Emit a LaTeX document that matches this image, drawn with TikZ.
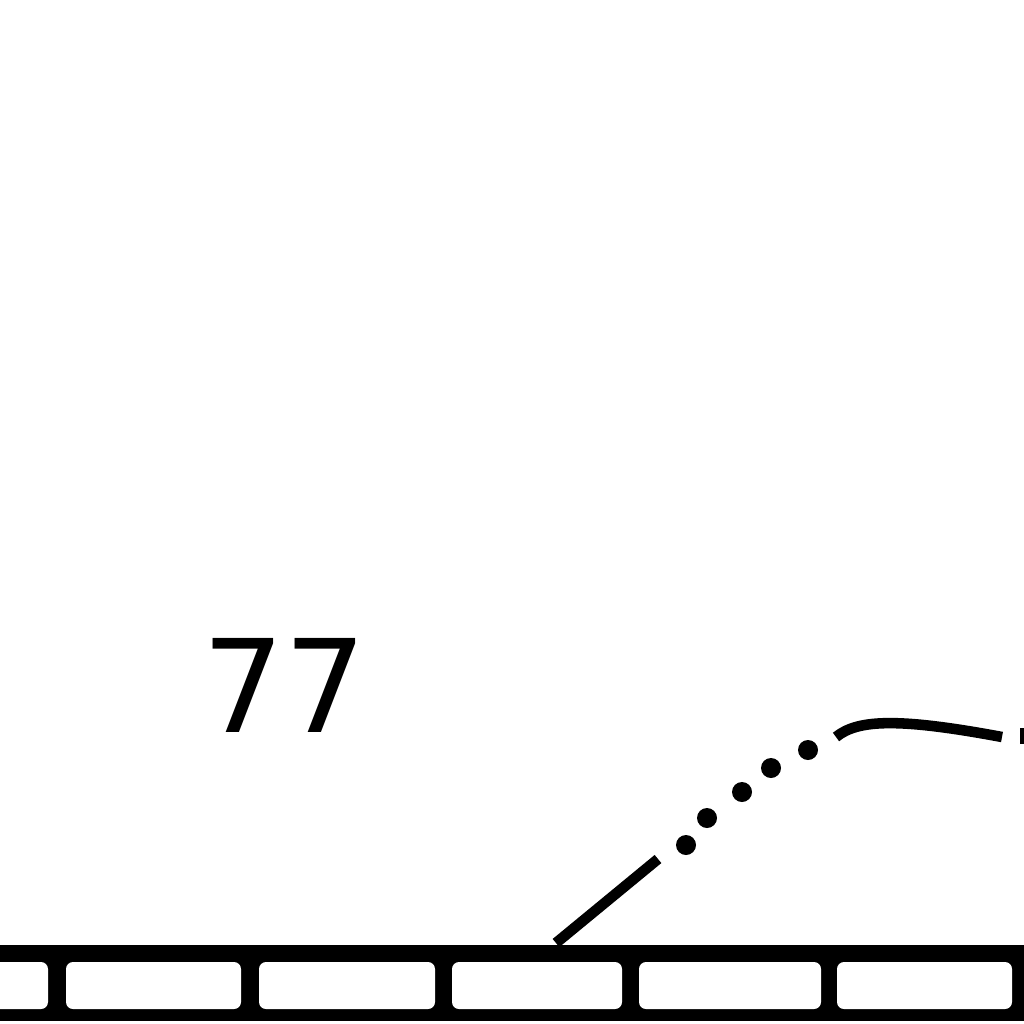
\documentclass[tikz,border=0pt]{standalone}
\usepackage{fontspec}
\newfontfamily\dejavu{DejaVu Sans}
\begin{document}
\begin{tikzpicture}[x=0.01cm,y=-0.01cm,
  curveline/.style={line width=3pt, line cap=butt},
  dotmark/.style={circle, fill=black, inner sep=0pt, minimum size=0.2cm},
  cellbox/.style={fill=white, rounded corners=0.07cm}]
\useasboundingbox (0,0) rectangle (1024,1024);
\clip (0,0) rectangle (1024,1024);
% label
\node[font=\fontsize{36.7}{40}\selectfont\dejavu, anchor=base, inner sep=0pt] (label) at (285,732) {77};
% bar
\fill[black] (-10,945) rectangle (1034,1021);
\foreach \a/\b in {-30/48, 66/241, 259/435, 452/622, 639/821, 837/1012} {
  \fill[cellbox] (\a,962) rectangle (\b,1009);
}
% lower solid part of the curve
\coordinate (c0) at (556,943);
\coordinate (c1) at (658,859);
\draw[curveline] (c0) -- (c1);
% dotted part
\node[dotmark] (d1) at (686,845) {};
\node[dotmark] (d2) at (707,818) {};
\node[dotmark] (d3) at (742,792) {};
\node[dotmark] (d4) at (771,768) {};
\node[dotmark] (d5) at (808,750) {};
% upper solid part
\coordinate (u0) at (836,737);
\coordinate (u1) at (1002,737);
\draw[curveline] (u0) .. controls (858,719) and (900,718) .. (u1);
% cut dash at right edge
\coordinate (r0) at (1020,736);
\coordinate (r1) at (1040,736);
\draw[line width=4.5pt] (r0) -- (r1);
\end{tikzpicture}
\end{document}
